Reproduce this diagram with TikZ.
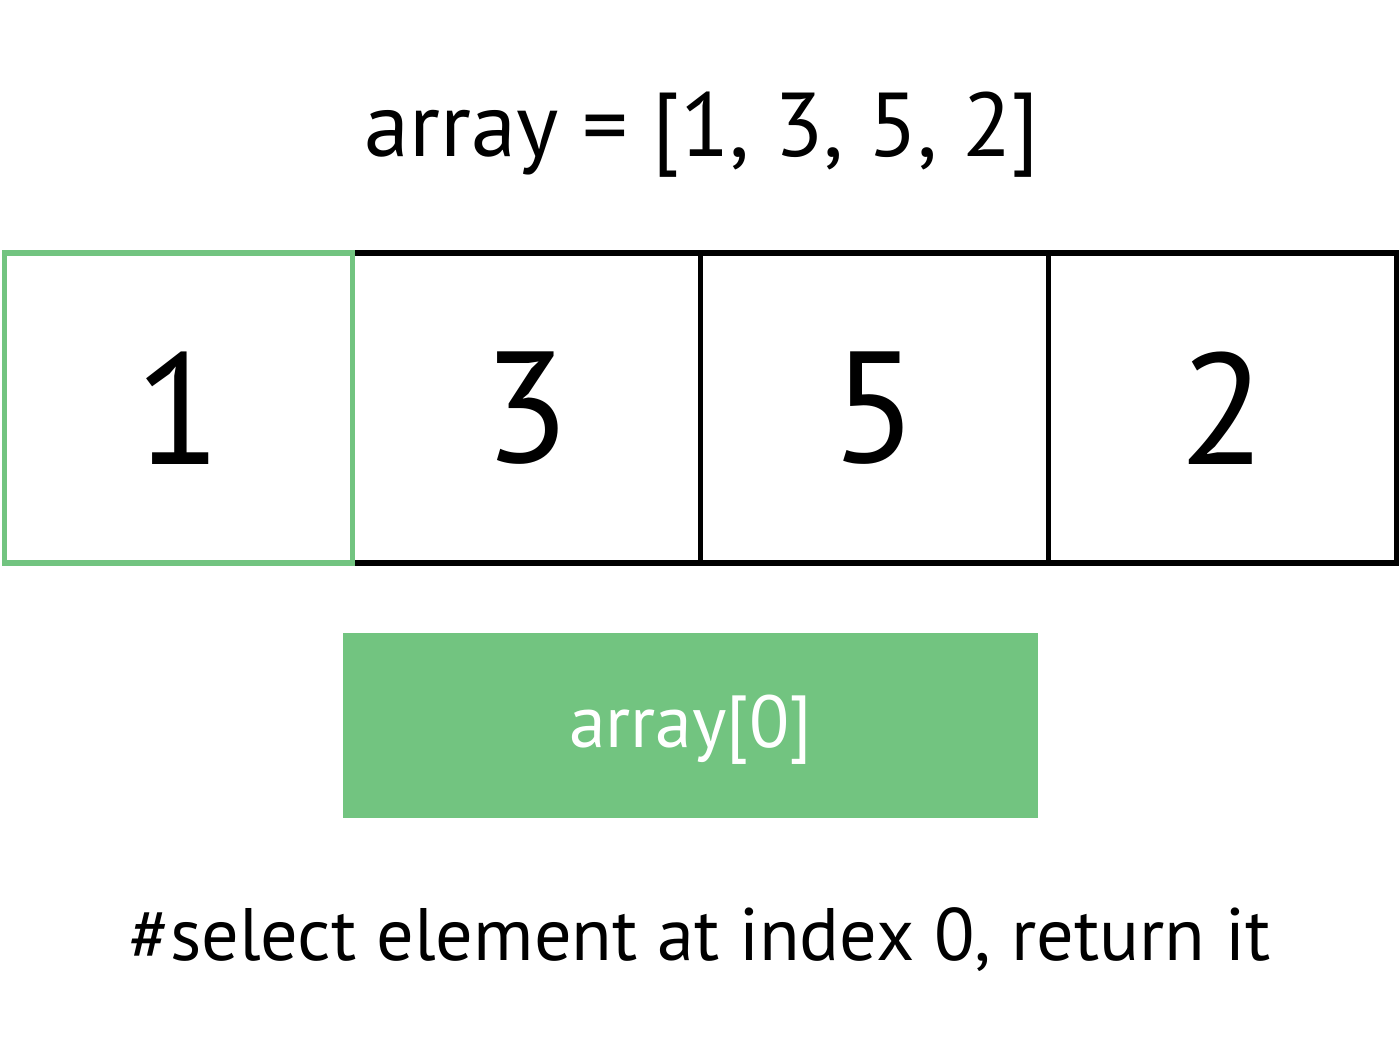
\documentclass[tikz,border=0pt]{standalone}
\usepackage{fontspec}
\setmainfont{PT Sans}
\usetikzlibrary{positioning}
\definecolor{pickgreen}{RGB}{114,196,128}
\tikzset{
  cell/.style={rectangle,draw=black,line width=3pt,outer sep=0pt,inner sep=0pt,minimum width=6.96cm,minimum height=6.2cm,font=\fontsize{90}{90}\selectfont},
  pickbox/.style={rectangle,fill=pickgreen,outer sep=0pt,minimum width=13.9cm,minimum height=3.7cm,text=white,font=\fontsize{42}{42}\selectfont},
  caption/.style={font=\fontsize{42.3}{42.3}\selectfont},
  headline/.style={font=\fontsize{51.6}{51.6}\selectfont}
}

\begin{document}
\begin{tikzpicture}[x=0.02cm,y=-0.02cm,node distance=0pt]
  \useasboundingbox (0,0) rectangle (1400,1052);
  \node[headline] (head) at (702,135) {array = [1, 3, 5, 2]};
  \node[cell] (c2) at (526.5,408) {3};
  \node[cell,right=of c2] (c3) {5};
  \node[cell,right=of c3] (c4) {2};
  \node[cell,draw=pickgreen,left=of c2] (c1) {1};
  \node[pickbox] (pick) at (690.5,725.5) {};
  \node (picktext) at (690.5,730) [text=white,font=\fontsize{42}{42}\selectfont] {array[0]};
  \node[caption] (note) at (700,940) {\#select element at index 0, return it};
\end{tikzpicture}
\end{document}
